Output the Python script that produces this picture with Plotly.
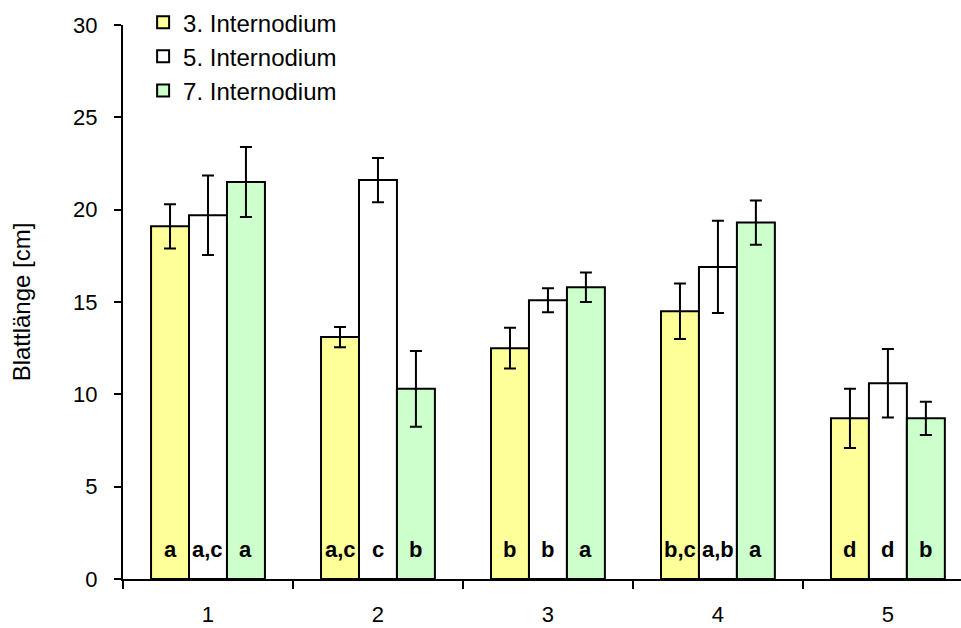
import plotly.graph_objects as go

# Leaf length by node position (groups 1-5) for three internodes
groups = [1, 2, 3, 4, 5]
tick_labels = ["1", "2", "3", "4", "5"]
series_names = ["3. Internodium", "5. Internodium", "7. Internodium"]

len_3 = [19.1, 13.1, 12.5, 14.5, 8.7]
len_5 = [19.7, 21.6, 15.1, 16.9, 10.6]
len_7 = [21.5, 10.3, 15.8, 19.3, 8.7]

err_3 = [1.2, 0.55, 1.1, 1.5, 1.6]
err_5 = [2.15, 1.2, 0.65, 2.5, 1.85]
err_7 = [1.9, 2.05, 0.8, 1.2, 0.9]

sig_3 = ["a", "a,c", "b", "b,c", "d"]
sig_5 = ["a,c", "c", "b", "a,b", "d"]
sig_7 = ["a", "b", "a", "a", "b"]

colors = ["#FFFF99", "#FFFFFF", "#CCFFCC"]
FONT = "Liberation Sans, Arial, sans-serif"

values = [len_3, len_5, len_7]
errors = [err_3, err_5, err_7]
letters = [sig_3, sig_5, sig_7]

fig = go.Figure()
for name, vals, errs, col in zip(series_names, values, errors, colors):
    fig.add_trace(go.Bar(
        x=groups, y=vals, name=name,
        marker=dict(color=col, line=dict(color="black", width=2)),
        error_y=dict(type="data", array=errs, visible=True,
                     color="black", thickness=2, width=6),
    ))

bargap = 0.33
bar_w = (1 - bargap) / 3
annotations = []
for i, labs in enumerate(letters):
    off = (i - 1) * bar_w
    for g, lab in zip(groups, labs):
        annotations.append(dict(
            x=g + off, y=1.6, xref="x", yref="y", text=f"<b>{lab}</b>",
            showarrow=False, font=dict(family=FONT, size=22, color="black"),
        ))

fig.update_layout(
    width=961, height=628,
    margin=dict(l=123, r=0, t=21, b=49),
    paper_bgcolor="white", plot_bgcolor="white",
    barmode="group", bargap=bargap, bargroupgap=0,
    font=dict(family=FONT, size=22, color="black"),
    showlegend=True,
    legend=dict(x=0.024, y=1.045, xanchor="left", yanchor="top",
                bgcolor="rgba(0,0,0,0)", font=dict(size=24),
                tracegroupgap=0),
    annotations=annotations,
    xaxis=dict(
        range=[0.5, 5.43], tickmode="array", tickvals=groups, ticktext=tick_labels,
        ticks="", showgrid=False, zeroline=False, automargin=False,
        showline=True, linecolor="black", linewidth=2,
        tickfont=dict(size=22), ticklabelstandoff=15,
        minor=dict(tickmode="array", tickvals=[0.5, 1.5, 2.5, 3.5, 4.5, 5.5],
                   ticks="outside", ticklen=8, tickwidth=2, tickcolor="black",
                   showgrid=False),
    ),
    yaxis=dict(
        range=[0, 30], tickvals=[0, 5, 10, 15, 20, 25, 30],
        ticks="outside", ticklen=7, tickwidth=2, tickcolor="black",
        showgrid=False, zeroline=False, automargin=False,
        showline=True, linecolor="black", linewidth=2,
        tickfont=dict(size=22), ticklabelstandoff=12,
        title=dict(text="Blattlänge [cm]", font=dict(size=24), standoff=36),
    ),
)

fig.write_html("out.html")
